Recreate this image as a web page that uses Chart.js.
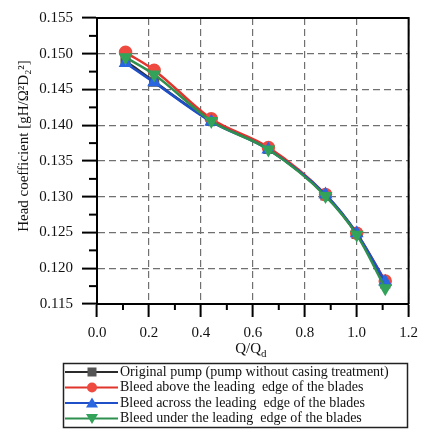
<!DOCTYPE html>
<html>
<head>
<meta charset="utf-8">
<script src="https://cdn.jsdelivr.net/npm/chart.js@4/dist/chart.umd.min.js"></script>
<style>
html,body{margin:0;padding:0;background:#fff;}
#wrap{width:425px;height:429px;position:relative;}
</style>
</head>
<body>
<div id="wrap"><canvas id="c"></canvas></div>
<script>
// ---- data ----
const flowRatio = [0.11, 0.22, 0.44, 0.66, 0.88, 1.0, 1.11];
const originalPump = [0.1490, 0.1461, 0.1406, 0.1367, 0.1302, 0.1248, 0.1179];
const bleedAbove   = [0.1502, 0.1477, 0.1409, 0.1369, 0.1303, 0.1249, 0.1182];
const bleedAcross  = [0.1487, 0.1460, 0.1405, 0.1366, 0.1303, 0.1249, 0.1181];
const bleedUnder   = [0.1495, 0.1471, 0.1406, 0.1366, 0.1301, 0.1247, 0.1172];
const seriesLabels = [
  'Original pump (pump without casing treatment)',
  'Bleed above the leading  edge of the blades',
  'Bleed across the leading  edge of the blades',
  'Bleed under the leading  edge of the blades'
];
const xTicks = [0.0, 0.2, 0.4, 0.6, 0.8, 1.0, 1.2];
const yTicks = [0.115, 0.120, 0.125, 0.130, 0.135, 0.140, 0.145, 0.150, 0.155];
const xTitleMain = 'Q/Q';
const xTitleSub = 'd';
const yTitle = 'Head coefficient [gH/Ω²D₂²]';

const FONT = "'Liberation Serif','Times New Roman',serif";
const toPts = arr => arr.map((v, i) => ({x: flowRatio[i], y: v}));

const styles = [
  {line: '#2b2b2b', fill: '#555555', shape: 'rect', rot: 0, order: 4},
  {line: '#e0342c', fill: '#ee4a40', shape: 'circle', rot: 0, order: 3},
  {line: '#1f4fc8', fill: '#2a66e0', shape: 'triangle', rot: 0, order: 2},
  {line: '#2f8f4e', fill: '#33a35a', shape: 'triangle', rot: 180, order: 1}
];
const values = [originalPump, bleedAbove, bleedAcross, bleedUnder];

const datasets = values.map((v, i) => ({
  label: seriesLabels[i],
  data: toPts(v),
  borderColor: styles[i].line,
  backgroundColor: styles[i].fill,
  pointBackgroundColor: styles[i].fill,
  pointBorderColor: styles[i].fill,
  pointStyle: styles[i].shape,
  rotation: styles[i].rot,
  pointRadius: 5.5,
  borderWidth: 2.5,
  cubicInterpolationMode: 'monotone',
  order: styles[i].order
}));

const L = 97, R = 414, T = 10, B = 304;

const extras = {
  id: 'extras',
  afterDraw(chart) {
    const ctx = chart.ctx;
    const a = chart.chartArea;
    const xs = chart.scales.x, ys = chart.scales.y;
    ctx.save();
    // frame top & right
    ctx.strokeStyle = '#000'; ctx.lineWidth = 2;
    ctx.beginPath();
    ctx.moveTo(a.left, a.top); ctx.lineTo(a.right, a.top); ctx.lineTo(a.right, a.bottom);
    ctx.stroke();
    // minor ticks
    for (let k = 0; k < yTicks.length - 1; k++) {
      const v = (yTicks[k] + yTicks[k + 1]) / 2;
      const py = ys.getPixelForValue(v);
      ctx.beginPath(); ctx.moveTo(a.left - 8, py); ctx.lineTo(a.left, py); ctx.stroke();
    }
    for (let k = 0; k < xTicks.length - 1; k++) {
      const v = (xTicks[k] + xTicks[k + 1]) / 2;
      const px = xs.getPixelForValue(v);
      ctx.beginPath(); ctx.moveTo(px, a.bottom); ctx.lineTo(px, a.bottom + 6); ctx.stroke();
    }
    // y title (rotated)
    ctx.fillStyle = '#111';
    ctx.save();
    ctx.translate(24, 146);
    ctx.rotate(-Math.PI / 2);
    ctx.font = '15px ' + FONT;
    ctx.textAlign = 'center'; ctx.textBaseline = 'middle';
    ctx.fillText(yTitle, 0, 0);
    ctx.restore();
    // x title with subscript
    ctx.font = '15px ' + FONT;
    const wMain = ctx.measureText(xTitleMain).width;
    ctx.font = '11px ' + FONT;
    const wSub = ctx.measureText(xTitleSub).width;
    const cx = (a.left + a.right) / 2 - 2;
    const x0 = cx - (wMain + wSub) / 2;
    ctx.textBaseline = 'alphabetic'; ctx.textAlign = 'left';
    ctx.font = '15px ' + FONT;
    ctx.fillText(xTitleMain, x0, 353);
    ctx.font = '11px ' + FONT;
    ctx.fillText(xTitleSub, x0 + wMain, 357);
    // legend box
    ctx.strokeStyle = '#222'; ctx.lineWidth = 1.5;
    ctx.strokeRect(63.5, 363.5, 344, 64);
    const rows = [372, 387.5, 403, 418.5];
    ctx.font = '14px ' + FONT;
    ctx.textBaseline = 'middle';
    chart.data.datasets.forEach((ds, i) => {
      const y = rows[i];
      const st = styles[i];
      ctx.strokeStyle = st.line; ctx.lineWidth = 2;
      ctx.beginPath(); ctx.moveTo(65, y); ctx.lineTo(118, y); ctx.stroke();
      ctx.fillStyle = st.fill;
      const mx = 92, r = 5;
      ctx.beginPath();
      if (st.shape === 'rect') {
        ctx.rect(mx - 4.5, y - 4.5, 9, 9);
      } else if (st.shape === 'circle') {
        ctx.arc(mx, y, r, 0, Math.PI * 2);
      } else if (st.rot === 0) {
        ctx.moveTo(mx, y - 5.5); ctx.lineTo(mx + 6, y + 4.5); ctx.lineTo(mx - 6, y + 4.5); ctx.closePath();
      } else {
        ctx.moveTo(mx, y + 5.5); ctx.lineTo(mx + 6, y - 4.5); ctx.lineTo(mx - 6, y - 4.5); ctx.closePath();
      }
      ctx.fill();
      ctx.fillStyle = '#111';
      ctx.fillText(ds.label, 120, y);
    });
    ctx.restore();
  }
};

new Chart(document.getElementById('c'), {
  type: 'line',
  data: {datasets},
  options: {
    responsive: true,
    maintainAspectRatio: false,
    animation: false,
    layout: {padding: {left: 0, right: 425 - R, top: T, bottom: 429 - B - 40}},
    plugins: {legend: {display: false}, tooltip: {enabled: false}},
    scales: {
      x: {
        type: 'linear', min: 0, max: 1.2,
        afterFit: s => { s.height = 40; },
        afterBuildTicks: s => { s.ticks = xTicks.map(v => ({value: v})); },
        ticks: {
          color: '#111', padding: 7,
          font: {family: FONT, size: 15},
          callback: v => Number(v).toFixed(1),
          maxRotation: 0
        },
        grid: {color: '#707070', lineWidth: 1.2, tickColor: '#000', tickLength: 13, tickWidth: 2},
        border: {display: true, color: '#000', width: 2, dash: [7, 4]}
      },
      y: {
        type: 'linear', min: 0.115, max: 0.155,
        afterFit: s => { s.width = L; },
        afterBuildTicks: s => { s.ticks = yTicks.map(v => ({value: v})); },
        ticks: {
          color: '#111', padding: 9,
          font: {family: FONT, size: 15},
          callback: v => Number(v).toFixed(3)
        },
        grid: {color: '#707070', lineWidth: 1.2, tickColor: '#000', tickLength: 15, tickWidth: 2},
        border: {display: true, color: '#000', width: 2, dash: [7, 4]}
      }
    }
  },
  plugins: [extras]
});
</script>
</body>
</html>
